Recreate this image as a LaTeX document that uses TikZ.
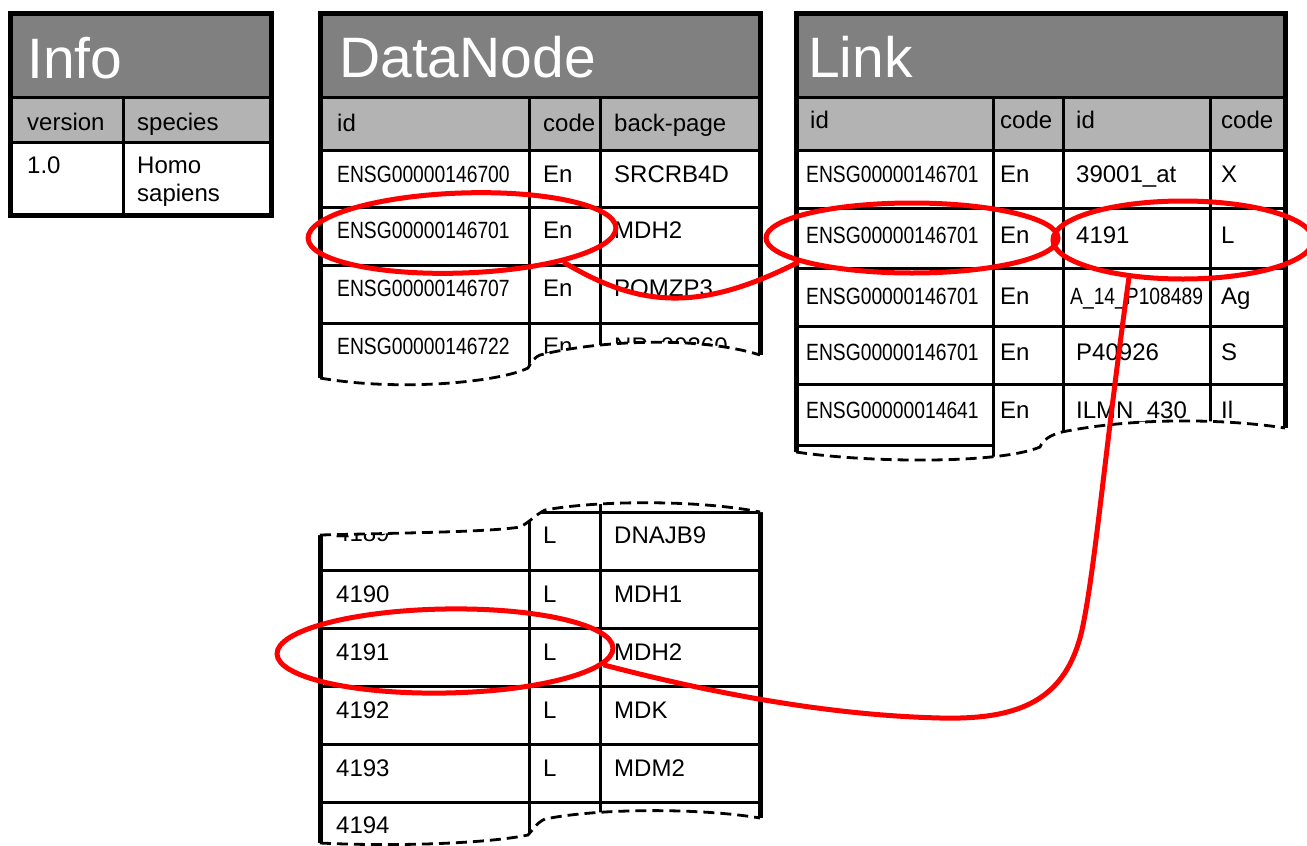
\documentclass[tikz,border=0pt]{standalone}
\usepackage{fontspec}
\setmainfont{Liberation Sans}
\newfontfamily\condfont[FakeStretch=0.82]{Liberation Sans}
\usetikzlibrary{shapes.geometric}
\definecolor{titlegray}{HTML}{808080}
\definecolor{headgray}{HTML}{B3B3B3}
\definecolor{markred}{HTML}{FF0000}
\tikzset{
  outerline/.style={line width=5pt, line join=miter},
  innerline/.style={line width=3pt},
  tornline/.style={line width=2.8pt, dash pattern=on 11pt off 6pt},
  ttl/.style={anchor=base west, inner sep=0pt, text=white, font=\fontsize{57}{60}\selectfont},
  txt/.style={anchor=base west, inner sep=0pt, font=\fontsize{24}{27}\selectfont},
  ens/.style={anchor=base west, inner sep=0pt, font=\condfont\fontsize{23.5}{27}\selectfont},
  ring/.style={ellipse, draw=markred, line width=5pt, inner sep=0pt},
  redlink/.style={draw=markred, line width=5pt},
  cover/.style={fill=white}
}
\begin{document}
\begin{tikzpicture}[x=1pt,y=-1pt]
\useasboundingbox (0,0) rectangle (1307,846);

% ---------------- Info ----------------
\fill[titlegray] (10,13) rectangle (271,97);
\fill[headgray] (10,97) rectangle (271,142);
\draw[innerline] (10,97) -- (271,97) (10,142) -- (271,142) (123,97) -- (123,215);
\node[ttl] (info-title) at (27,78) {Info};
\node[txt] (info-h1) at (27,130) {version};
\node[txt] (info-h2) at (137,130) {species};
\node[txt] (info-v) at (27,173) {1.0};
\node[txt] (info-s1) at (137,173) {Homo};
\node[txt] (info-s2) at (137,201) {sapiens};
\draw[outerline] (10,13) rectangle (271,215);

% ---------------- DataNode ----------------
\fill[titlegray] (320,13) rectangle (760,97);
\fill[headgray] (320,97) rectangle (760,150);
\foreach \yy in {97,150,207,265,323} \draw[innerline] (320,\yy) -- (760,\yy);
\draw[innerline] (529,97) -- (529,400) (600,97) -- (600,400);
\node[ttl] (dn-title) at (339,77) {DataNode};
\node[txt] (dn-h1) at (337,131) {id};
\node[txt] (dn-h2) at (543,131) {code};
\node[txt] (dn-h3) at (614,131) {back-page};
\node[ens] (dn-a1) at (337,182) {ENSG00000146700};
\node[ens] (dn-a2) at (337,238) {ENSG00000146701};
\node[ens] (dn-a3) at (337,296) {ENSG00000146707};
\node[ens] (dn-a4) at (337,354) {ENSG00000146722};
\node[txt] (dn-b1) at (543,182) {En};
\node[txt] (dn-b2) at (543,238) {En};
\node[txt] (dn-b3) at (543,296) {En};
\node[txt] (dn-b4) at (543,354) {En};
\node[txt] (dn-c1) at (614,182) {SRCRB4D};
\node[txt] (dn-c2) at (614,238) {MDH2};
\node[txt] (dn-c3) at (614,296) {POMZP3};
\node[txt] (dn-c4) at (614,354) {NP\_00360};
\draw[outerline] (320,400) -- (320,13) -- (760,13) -- (760,400);
\fill[cover] (316,378) -- (320,378) .. controls (400,392) and (500,382) .. (528,368)
  .. controls (532,361) and (535,357) .. (540,355)
  .. controls (600,340) and (700,336) .. (760,355) -- (765,355) -- (765,412) -- (316,412) -- cycle;
\draw[tornline] (320,378) .. controls (400,392) and (500,382) .. (528,368)
  .. controls (532,361) and (535,357) .. (540,355)
  .. controls (600,340) and (700,336) .. (760,355);

% ---------------- Link ----------------
\fill[titlegray] (796,13) rectangle (1285,97);
\fill[headgray] (796,97) rectangle (1285,150);
\foreach \yy in {97,150,208,268,326,384} \draw[innerline] (796,\yy) -- (1285,\yy);
\draw[innerline] (796,445) -- (993,445);
\draw[innerline] (993,97) -- (993,470) (1063,97) -- (1063,470) (1210,97) -- (1210,470);
\node[ttl] (ln-title) at (808,77) {Link};
\node[txt] (ln-h1) at (810,128) {id};
\node[txt] (ln-h2) at (1000,128) {code};
\node[txt] (ln-h3) at (1076,128) {id};
\node[txt] (ln-h4) at (1221,128) {code};
\node[ens] (ln-a1) at (806,182) {ENSG00000146701};
\node[ens] (ln-a2) at (806,243) {ENSG00000146701};
\node[ens] (ln-a3) at (806,304) {ENSG00000146701};
\node[ens] (ln-a4) at (806,360) {ENSG00000146701};
\node[ens] (ln-a5) at (806,418) {ENSG00000014641};
\node[txt] (ln-b1) at (1000,182) {En};
\node[txt] (ln-b2) at (1000,243) {En};
\node[txt] (ln-b3) at (1000,304) {En};
\node[txt] (ln-b4) at (1000,360) {En};
\node[txt] (ln-b5) at (1000,418) {En};
\node[txt] (ln-c1) at (1076,182) {39001\_at};
\node[txt] (ln-c2) at (1076,243) {4191};
\node[ens] (ln-c3) at (1070,304) {A\_14\_P108489};
\node[txt] (ln-c4) at (1076,360) {P40926};
\node[txt] (ln-c5) at (1076,418) {ILMN\_430};
\node[txt] (ln-d1) at (1221,182) {X};
\node[txt] (ln-d2) at (1221,243) {L};
\node[txt] (ln-d3) at (1221,304) {Ag};
\node[txt] (ln-d4) at (1221,360) {S};
\node[txt] (ln-d5) at (1221,418) {Il};
\draw[outerline] (796,470) -- (796,13) -- (1285,13) -- (1285,470);
\fill[cover] (792,452) -- (796,452) .. controls (870,463) and (1000,464) .. (1040,447)
  .. controls (1043,440) and (1050,435) .. (1062,432)
  .. controls (1130,418) and (1220,418) .. (1285,428) -- (1290,428) -- (1290,480) -- (792,480) -- cycle;
\draw[tornline] (796,452) .. controls (870,463) and (1000,464) .. (1040,447)
  .. controls (1043,440) and (1050,435) .. (1062,432)
  .. controls (1130,418) and (1220,418) .. (1285,428);

% ---------------- lower table ----------------
\foreach \yy in {512,570,628,686,744,802} \draw[innerline] (320,\yy) -- (760,\yy);
\draw[innerline] (529,490) -- (529,846) (600,490) -- (600,846);
\node[txt] (lo-a0) at (336,541) {4189};
\node[txt] (lo-a1) at (336,602) {4190};
\node[txt] (lo-a2) at (336,660) {4191};
\node[txt] (lo-a3) at (336,718) {4192};
\node[txt] (lo-a4) at (336,776) {4193};
\node[txt] (lo-a5) at (336,833) {4194};
\node[txt] (lo-b0) at (543,543) {L};
\node[txt] (lo-b1) at (543,602) {L};
\node[txt] (lo-b2) at (543,660) {L};
\node[txt] (lo-b3) at (543,718) {L};
\node[txt] (lo-b4) at (543,776) {L};
\node[txt] (lo-c0) at (614,543) {DNAJB9};
\node[txt] (lo-c1) at (614,602) {MDH1};
\node[txt] (lo-c2) at (614,660) {MDH2};
\node[txt] (lo-c3) at (614,718) {MDK};
\node[txt] (lo-c4) at (614,776) {MDM2};
\draw[outerline] (320,490) -- (320,846) (760,490) -- (760,846);
\fill[cover] (316,535) -- (320,535) .. controls (400,533) and (490,532) .. (520,527)
  .. controls (530,522) and (535,515) .. (545,510)
  .. controls (600,500) and (700,500) .. (760,512) -- (765,512) -- (765,480) -- (316,480) -- cycle;
\draw[tornline] (320,535) .. controls (400,533) and (490,532) .. (520,527)
  .. controls (530,522) and (535,515) .. (545,510)
  .. controls (600,500) and (700,500) .. (760,512);
\fill[cover] (316,843) -- (320,843) .. controls (400,847) and (490,843) .. (528,835)
  .. controls (533,830) and (536,823) .. (545,819)
  .. controls (600,808) and (700,808) .. (760,818) -- (765,818) -- (765,860) -- (316,860) -- cycle;
\draw[tornline] (320,843) .. controls (400,847) and (490,843) .. (528,835)
  .. controls (533,830) and (536,823) .. (545,819)
  .. controls (600,808) and (700,808) .. (760,818);

% ---------------- red marks ----------------
\node[ring, rotate=2, minimum width=308pt, minimum height=80pt] (e1) at (462,233) {};
\node[ring, minimum width=292pt, minimum height=70pt] (e2) at (912,238) {};
\node[ring, minimum width=260pt, minimum height=78pt] (e3) at (1183,240) {};
\node[ring, rotate=1, minimum width=336pt, minimum height=84pt] (e4) at (445,651) {};
\draw[redlink] (e1.-18) .. controls (640,308) and (700,312) .. (e2.-168);
\draw[redlink] (e3.-145) .. controls (1105,450) and (1095,570) .. (1082,630)
  .. controls (1066,700) and (1020,720) .. (940,718)
  .. controls (820,715) and (700,690) .. (e4.-6);
\end{tikzpicture}
\end{document}
